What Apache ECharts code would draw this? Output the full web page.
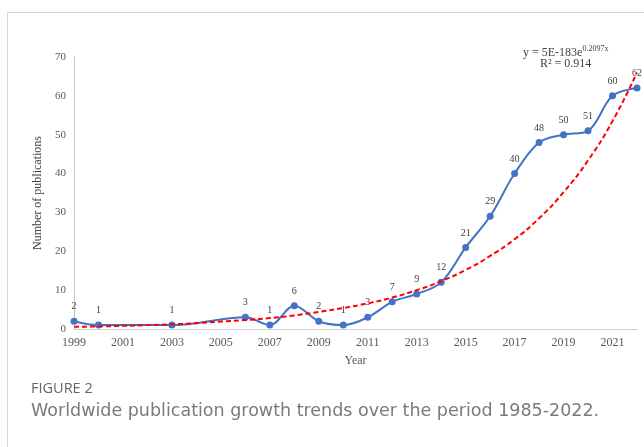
<!DOCTYPE html>
<html>
<head>
<meta charset="utf-8">
<script src="https://cdn.jsdelivr.net/npm/echarts@6/dist/echarts.min.js"></script>
<style>
  html, body { margin: 0; padding: 0; background: #fff; }
  #chart { width: 644px; height: 447px; }
</style>
</head>
<body>
<div id="chart"></div>
<script>
// Publications per year
const years = [1999, 2000, 2003, 2006, 2007, 2008, 2009, 2010, 2011, 2012, 2013, 2014, 2015, 2016, 2017, 2018, 2019, 2020, 2021, 2022];
const publications = [2, 1, 1, 3, 1, 6, 2, 1, 3, 7, 9, 12, 21, 29, 40, 48, 50, 51, 60, 62];

// Exponential trendline, one value per year
const trendYears = [1999, 2000, 2001, 2002, 2003, 2004, 2005, 2006, 2007, 2008, 2009, 2010, 2011, 2012, 2013, 2014, 2015, 2016, 2017, 2018, 2019, 2020, 2021, 2022];
const trendValues = [0.55, 0.67, 0.82, 1.0, 1.2, 1.5, 1.9, 2.3, 2.8, 3.5, 4.4, 5.4, 6.6, 8.1, 10.0, 12.3, 15.2, 18.8, 23.1, 28.5, 35.2, 43.4, 53.5, 66.0];

const xTicks = [1999, 2001, 2003, 2005, 2007, 2009, 2011, 2013, 2015, 2017, 2019, 2021];
const yTicks = [0, 10, 20, 30, 40, 50, 60, 70];

const serif = '"Liberation Serif", "Times New Roman", serif';
const sans = '"Open Sans", "Noto Sans", sans-serif';
const wideSans = '"DejaVu Sans", "Open Sans", sans-serif';

const chart = echarts.init(document.getElementById('chart'), null, { renderer: 'canvas' });

chart.setOption({
  backgroundColor: '#ffffff',
  animation: false,
  grid: { left: 74, right: 7, top: 57, bottom: 118, containLabel: false },
  xAxis: {
    type: 'value',
    min: xTicks[0],
    max: trendYears[trendYears.length - 1],
    interval: 2,
    name: 'Year',
    nameLocation: 'middle',
    nameGap: 26,
    nameTextStyle: { fontFamily: serif, fontSize: 12, color: '#595959' },
    axisLine: { show: true, lineStyle: { color: '#d0d0d0', width: 1 } },
    axisTick: { show: false },
    splitLine: { show: false },
    axisLabel: {
      fontFamily: serif, fontSize: 12, color: '#595959', margin: 8,
      formatter: v => (xTicks.indexOf(v) >= 0 ? String(v) : '')
    }
  },
  yAxis: {
    type: 'value',
    min: yTicks[0],
    max: yTicks[yTicks.length - 1],
    interval: 10,
    name: 'Number of publications',
    nameLocation: 'middle',
    nameGap: 25,
    nameTextStyle: { fontFamily: serif, fontSize: 12, color: '#404040' },
    axisLine: { show: true, lineStyle: { color: '#c8c8c8', width: 1 } },
    axisTick: { show: false },
    splitLine: { show: false },
    axisLabel: { fontFamily: serif, fontSize: 11, color: '#595959', margin: 8 }
  },
  series: [
    {
      name: 'Publications',
      type: 'line',
      data: years.map((y, i) => [y, publications[i]]),
      smooth: 0.35,
      symbol: 'circle',
      symbolSize: 7,
      z: 3,
      lineStyle: { color: '#4472C4', width: 2 },
      itemStyle: { color: '#4472C4' },
      label: {
        show: true, position: 'top', distance: 6,
        fontFamily: serif, fontSize: 10, color: '#404040'
      }
    },
    {
      name: 'Trend',
      type: 'line',
      data: trendYears.map((y, i) => [y, trendValues[i]]),
      smooth: 0.5,
      symbol: 'none',
      z: 4,
      lineStyle: { color: '#FF0000', width: 2, type: [5, 3] }
    }
  ],
  graphic: [
    // card frame
    { type: 'line', shape: { x1: 7, y1: 12.5, x2: 644, y2: 12.5 }, style: { stroke: '#d6d6d6', lineWidth: 1 } },
    { type: 'line', shape: { x1: 7.5, y1: 12, x2: 7.5, y2: 447 }, style: { stroke: '#d6d6d6', lineWidth: 1 } },
    // trendline equation
    {
      type: 'text', left: 523, top: 45,
      style: {
        text: '{b|y = 5E-183e}{s|0.2097x}',
        rich: {
          b: { fontFamily: serif, fontSize: 12, fill: '#404040', lineHeight: 14, verticalAlign: 'bottom' },
          s: { fontFamily: serif, fontSize: 8, fill: '#404040', lineHeight: 14, verticalAlign: 'top' }
        }
      }
    },
    {
      type: 'text', left: 540, top: 58,
      style: { text: 'R² = 0.914', fontFamily: serif, fontSize: 12, fill: '#404040' }
    },
    // figure caption
    {
      type: 'text', x: 31, y: 389,
      style: { text: 'FIGURE 2', fontFamily: sans, fontSize: 14.5, fill: '#666666', verticalAlign: 'middle' }
    },
    {
      type: 'text', x: 31, y: 411,
      style: { text: 'Worldwide publication growth trends over the period 1985-2022.', fontFamily: wideSans, fontSize: 17.5, fill: '#7a7a7a', verticalAlign: 'middle' }
    }
  ]
});
</script>
</body>
</html>
